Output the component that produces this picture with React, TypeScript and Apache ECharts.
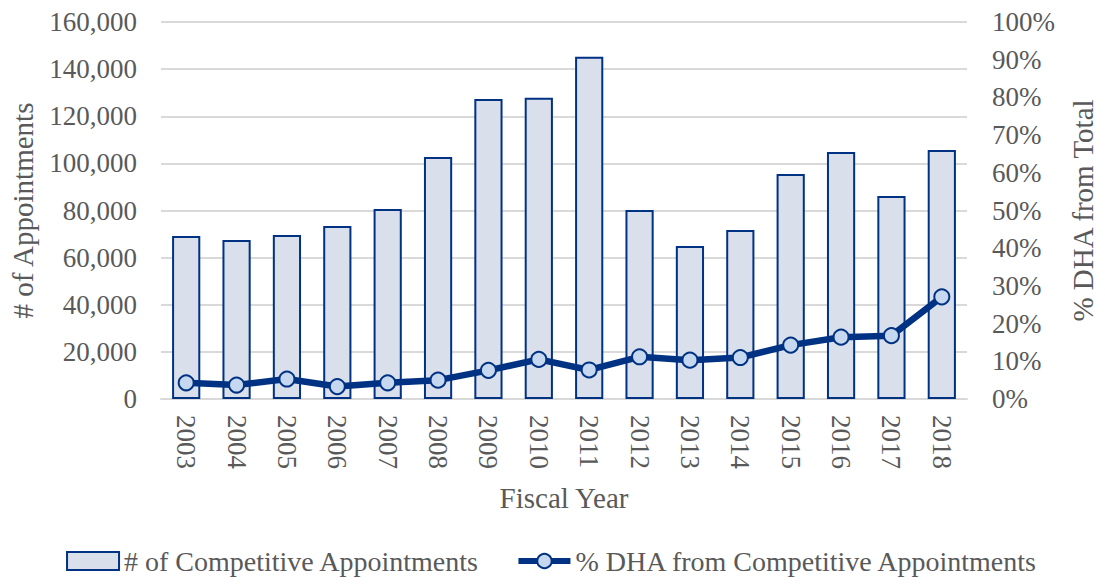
import React, { useEffect, useRef } from "react";
import * as echarts from "echarts";

const years = ["2003","2004","2005","2006","2007","2008","2009","2010","2011","2012","2013","2014","2015","2016","2017","2018"];
const appointments = [69200, 67500, 69600, 73400, 80600, 102700, 127300, 127800, 145200, 80200, 64900, 71700, 95500, 104800, 86200, 105700];
const dhaPercent = [4.3, 3.7, 5.3, 3.3, 4.3, 5.0, 7.6, 10.5, 7.7, 11.2, 10.3, 11.0, 14.3, 16.4, 16.8, 27.1];

const FONT = "'Liberation Serif', 'Times New Roman', serif";
const TEXT = "#595959";
const NAVY = "#003283";

export default function App() {
  const ref = useRef<HTMLDivElement>(null);
  useEffect(() => {
    if (!ref.current) return;
    const chart = echarts.init(ref.current, null, { renderer: "svg" });
    chart.setOption({
      animation: false,
      textStyle: { fontFamily: FONT },
      grid: { left: 161, right: 138, top: 22, bottom: 187, containLabel: false },
      legend: {
        left: "center",
        top: 542,
        itemWidth: 52,
        itemHeight: 18,
        itemGap: 36,
        textStyle: { fontFamily: FONT, fontSize: 28, color: TEXT },
        data: [
          { name: "# of Competitive Appointments", icon: "rect" },
          { name: "% DHA from Competitive Appointments", lineStyle: { width: 6, color: NAVY } },
        ],
      },
      xAxis: {
        type: "category",
        data: years,
        name: "Fiscal Year",
        nameLocation: "middle",
        nameGap: 84,
        nameTextStyle: { fontFamily: FONT, fontSize: 29, color: TEXT },
        axisLine: { show: true, lineStyle: { color: "#d9d9d9", width: 2 } },
        axisTick: { show: false },
        axisLabel: { rotate: -90, margin: 16, fontFamily: FONT, fontSize: 27, color: TEXT },
      },
      yAxis: [
        {
          type: "value",
          min: 0,
          max: 160000,
          interval: 20000,
          name: "# of Appointments",
          nameLocation: "middle",
          nameRotate: 90,
          nameGap: 124,
          nameTextStyle: { fontFamily: FONT, fontSize: 29, color: TEXT },
          axisLine: { show: false },
          axisTick: { show: false },
          axisLabel: {
            margin: 24,
            fontFamily: FONT,
            fontSize: 27,
            color: TEXT,
            formatter: (v: number) => v.toLocaleString("en-US"),
          },
          splitLine: { show: true, lineStyle: { color: "#d9d9d9", width: 2 } },
        },
        {
          type: "value",
          min: 0,
          max: 100,
          interval: 10,
          name: "% DHA from Total",
          nameLocation: "middle",
          nameRotate: 90,
          nameGap: 101,
          nameTextStyle: { fontFamily: FONT, fontSize: 29, color: TEXT },
          axisLine: { show: false },
          axisTick: { show: false },
          axisLabel: { margin: 25, fontFamily: FONT, fontSize: 27, color: TEXT, formatter: "{value}%" },
          splitLine: { show: false },
        },
      ],
      series: [
        {
          name: "# of Competitive Appointments",
          type: "bar",
          data: appointments,
          barWidth: "56%",
          itemStyle: { color: "#d9dfeb", borderColor: NAVY, borderWidth: 2 },
        },
        {
          name: "% DHA from Competitive Appointments",
          type: "line",
          yAxisIndex: 1,
          data: dhaPercent,
          symbol: "circle",
          symbolSize: 15,
          lineStyle: { color: NAVY, width: 6.5 },
          itemStyle: { color: "#c5d8ef", borderColor: NAVY, borderWidth: 2 },
        },
      ],
    });
    return () => chart.dispose();
  }, []);
  return <div ref={ref} style={{ width: 1105, height: 586, margin: -8 }} />;
}
